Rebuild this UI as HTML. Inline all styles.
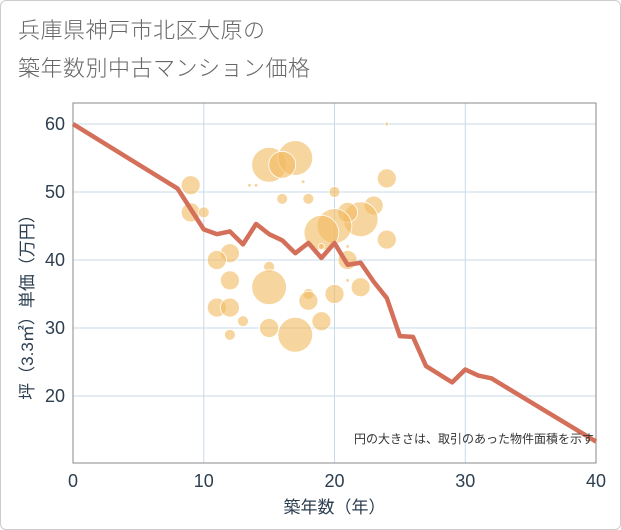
<!DOCTYPE html>
<html><head><meta charset="utf-8"><style>
body{margin:0;background:#fff;font-family:"Liberation Sans","Noto Sans CJK JP",sans-serif;}
#wrap{position:relative;width:619px;height:528px;border:1px solid #ccc;border-radius:6px;overflow:hidden;}
.title{position:absolute;left:17px;font-size:22px;color:#666;letter-spacing:0.5px;font-family:"Noto Sans CJK JP","Liberation Sans",sans-serif;font-weight:300;}
</style></head><body>
<div id="wrap">
<div class="title" style="top:12px">兵庫県神戸市北区大原の</div>
<div class="title" style="top:50px">築年数別中古マンション価格</div>
<svg id="chart" width="621" height="530" style="position:absolute;left:-1px;top:-1px"></svg>
</div>
<script>
const xTicks=[0,10,20,30,40];
const yTicks=[20,30,40,50,60];
const bubbleX=[9,9,10,15,17,16,17.6,14,16,18,20,24,24,23,22,21,20,19,24,19,21,21,21,22,12,11,15,12,15,18,18,20,11,12,13,19,15,17,12,13.5];
const bubbleY=[51,47,47,54,55,54,51.5,51,49,49,50,60,52,48,46,47,45,44,43,42,42,40,37,36,41,40,39,37,36,35,34,35,33,33,31,31,30,29,29,51];
const bubbleSize=[3,3,1,10,10,6,0.12,0.12,1,1,1,0.12,3,3,10,3.3,10,10,3,0.3,0.12,3,0.12,3,3,3,1,3,10,1,3,3,3,3,1,3,3,10,1,0.12];
const lineX=[0,8,9,10,11,12,13,14,15,16,17,18,19,20,21,22,23,24,25,26,27,28,29,30,31,32,40];
const lineY=[60,50.5,47.5,44.5,43.8,44.2,42.3,45.3,43.8,42.9,41,42.5,40.3,42.5,39.3,39.6,36.8,34.4,28.8,28.7,24.4,23.2,22,23.9,23,22.6,13.3];
const L=73,R=596,T=103,B=463;
const sx=v=>L+(v/40)*(R-L);
const sy=v=>124+(60-v)*6.8;
const svg=document.getElementById('chart');
const NS='http://www.w3.org/2000/svg';
function mk(t,a){const e=document.createElementNS(NS,t);for(const k in a)e.setAttribute(k,a[k]);svg.appendChild(e);return e;}
xTicks.forEach(v=>{const e=mk('line',{x1:sx(v),x2:sx(v),y1:T,y2:B,stroke:'#c9d9e8','stroke-width':1});


const t=mk('text',{x:sx(v),y:B+24,'text-anchor':'middle','font-size':18,fill:'#2c3e50'});t.textContent=v;

});
yTicks.forEach(v=>{const e=mk('line',{x1:L,x2:R,y1:sy(v),y2:sy(v),stroke:'#c9d9e8','stroke-width':1});


const t=mk('text',{x:L-8,y:sy(v)+6,'text-anchor':'end','font-size':18,fill:'#2c3e50'});t.textContent=v;

});
const fr=mk('rect',{x:L,y:T,width:R-L,height:B-T,fill:'none',stroke:'#888','stroke-width':1});


bubbleX.forEach((v,i)=>{const c=mk('circle',{cx:sx(v),cy:sy(bubbleY[i]),r:5.5*Math.sqrt(bubbleSize[i]),fill:'#f2bb62','fill-opacity':0.62,stroke:'#fff','stroke-width':0.8});

});
const p=mk('polyline',{points:lineX.map((v,i)=>sx(v)+','+sy(lineY[i])).join(' '),fill:'none',stroke:'#d4705a','stroke-width':4.5,'stroke-linejoin':'round'});


const note=mk('text',{x:R-2,y:443,'text-anchor':'end','font-size':12,fill:'#333'});note.textContent='円の大きさは、取引のあった物件面積を示す';


const xt=mk('text',{x:(L+R)/2,y:513,'text-anchor':'middle','font-size':17,fill:'#2c3e50'});xt.textContent='築年数（年）';


const yt=mk('text',{x:0,y:0,'text-anchor':'middle','font-size':17,fill:'#2c3e50',transform:'translate(33,'+((T+B)/2+20)+') rotate(-90)'});yt.textContent='坪（3.3㎡）単価（万円）';


</script>
</body></html>
